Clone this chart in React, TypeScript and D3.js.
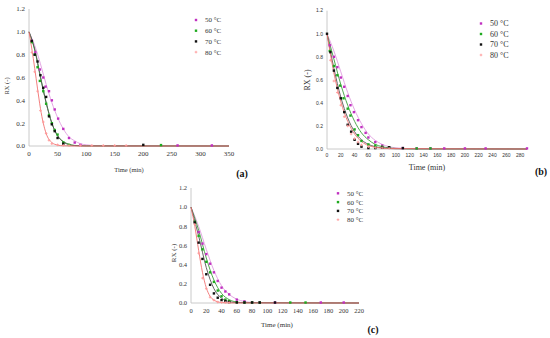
import React from "react";
import * as d3 from "d3";

type Pt = [number, number];

const legendLabels = ["50 °C", "60 °C", "70 °C", "80 °C"];
const pointColors = ["#c030c0", "#1faa1f", "#111111", "#ff9a9a"];
const curveColors = ["#e09ce0", "#3c9e3c", "#555555", "#f07272"];

// ---- panel (a) measured points [time, RX]
const a50: Pt[] = [[5, 0.92], [11, 0.82], [19, 0.67], [25, 0.6], [29, 0.52], [35, 0.48], [40, 0.4], [45, 0.32], [51, 0.24], [60, 0.15], [70, 0.07], [80, 0.03], [90, 0.01], [260, 0.005], [320, 0.005]];
const a60: Pt[] = [[5, 0.91], [10, 0.8], [15, 0.69], [19, 0.57], [25, 0.48], [30, 0.37], [35, 0.27], [40, 0.2], [45, 0.14], [50, 0.1], [60, 0.03], [70, 0.01], [231, 0.008]];
const a70: Pt[] = [[5, 0.92], [10, 0.8], [15, 0.74], [20, 0.62], [25, 0.51], [30, 0.43], [35, 0.26], [40, 0.19], [45, 0.13], [50, 0.07], [60, 0.02], [200, 0.01]];
const a80: Pt[] = [[5, 0.82], [10, 0.65], [15, 0.48], [20, 0.31], [25, 0.21], [30, 0.11], [35, 0.05], [40, 0.02], [50, 0.01], [60, 0.005], [70, 0.005], [90, 0.005], [110, 0.005], [130, 0.005], [150, 0.005], [170, 0.005]];
// fitted curves (a)
const a50fit: Pt[] = [[0, 1], [10, 0.88], [20, 0.72], [30, 0.54], [40, 0.38], [50, 0.25], [60, 0.15], [70, 0.08], [80, 0.045], [90, 0.02], [100, 0.01], [120, 0.003], [150, 0.001], [350, 0]];
const a60fit: Pt[] = [[0, 1], [10, 0.84], [20, 0.6], [30, 0.38], [40, 0.2], [50, 0.09], [60, 0.04], [70, 0.015], [80, 0.005], [100, 0.001], [350, 0]];
const a70fit: Pt[] = [[0, 1], [10, 0.85], [20, 0.61], [30, 0.38], [40, 0.2], [50, 0.09], [60, 0.035], [70, 0.012], [80, 0.004], [100, 0.001], [350, 0]];
const a80fit: Pt[] = [[0, 1], [5, 0.85], [10, 0.68], [15, 0.5], [20, 0.33], [25, 0.2], [30, 0.11], [40, 0.03], [50, 0.008], [60, 0.002], [80, 0], [350, 0]];

// ---- panel (b)
const b50: Pt[] = [[4, 0.9], [10, 0.8], [15, 0.71], [20, 0.62], [25, 0.54], [30, 0.46], [34, 0.38], [39, 0.32], [45, 0.25], [50, 0.19], [56, 0.14], [60, 0.1], [70, 0.06], [80, 0.03], [90, 0.015], [110, 0.008], [130, 0.005], [150, 0.005], [170, 0.005], [200, 0.005], [230, 0.005], [290, 0.005]];
const b60: Pt[] = [[4, 0.85], [10, 0.72], [15, 0.64], [19, 0.55], [24, 0.44], [30, 0.35], [34, 0.29], [40, 0.17], [45, 0.12], [50, 0.07], [60, 0.04], [70, 0.03], [80, 0.02], [90, 0.015], [130, 0.005], [150, 0.005]];
const b70: Pt[] = [[0, 1], [5, 0.84], [10, 0.68], [15, 0.53], [20, 0.44], [25, 0.32], [30, 0.21], [35, 0.15], [40, 0.08], [45, 0.045], [50, 0.02], [60, 0.008], [70, 0.008], [80, 0.012], [90, 0.015], [110, 0.008]];
const b80: Pt[] = [[5, 0.77], [10, 0.59], [15, 0.49], [20, 0.38], [25, 0.28], [30, 0.2], [35, 0.13], [40, 0.09], [45, 0.06], [50, 0.035], [60, 0.02], [70, 0.012], [80, 0.01], [90, 0.006]];
const b50fit: Pt[] = [[0, 1], [10, 0.85], [20, 0.67], [30, 0.49], [40, 0.34], [50, 0.22], [60, 0.13], [70, 0.075], [80, 0.04], [90, 0.02], [100, 0.01], [120, 0.003], [150, 0.001], [290, 0]];
const b60fit: Pt[] = [[0, 1], [10, 0.78], [20, 0.56], [30, 0.38], [40, 0.24], [50, 0.14], [60, 0.08], [70, 0.04], [80, 0.02], [100, 0.005], [130, 0.001], [290, 0]];
const b70fit: Pt[] = [[0, 1], [10, 0.7], [20, 0.45], [30, 0.27], [40, 0.15], [50, 0.08], [60, 0.04], [70, 0.02], [80, 0.01], [100, 0.002], [290, 0]];
const b80fit: Pt[] = [[0, 1], [10, 0.66], [20, 0.41], [30, 0.24], [40, 0.13], [50, 0.065], [60, 0.03], [70, 0.015], [90, 0.004], [290, 0]];

// ---- panel (c)
const c50: Pt[] = [[5, 0.85], [10, 0.74], [15, 0.62], [20, 0.51], [25, 0.41], [30, 0.32], [35, 0.23], [40, 0.16], [45, 0.12], [50, 0.09], [60, 0.035], [70, 0.017], [80, 0.008], [90, 0.006], [110, 0.005], [170, 0.005], [200, 0.005]];
const c60: Pt[] = [[5, 0.85], [10, 0.7], [15, 0.56], [20, 0.43], [25, 0.32], [30, 0.22], [35, 0.13], [40, 0.07], [45, 0.035], [50, 0.02], [60, 0.008], [70, 0.006], [80, 0.006], [90, 0.005], [130, 0.005], [150, 0.005]];
const c70: Pt[] = [[5, 0.84], [10, 0.63], [15, 0.46], [20, 0.3], [25, 0.19], [30, 0.1], [35, 0.055], [40, 0.03], [45, 0.02], [50, 0.01], [60, 0.006], [70, 0.005], [80, 0.005], [90, 0.005], [110, 0.005]];
const c80: Pt[] = [[5, 0.82], [10, 0.52], [15, 0.26], [20, 0.15], [25, 0.06], [30, 0.03], [35, 0.01], [40, 0.006], [45, 0.005], [50, 0.005]];
const c50fit: Pt[] = [[0, 1], [10, 0.8], [20, 0.56], [30, 0.34], [40, 0.18], [50, 0.09], [60, 0.04], [70, 0.015], [80, 0.006], [100, 0.001], [220, 0]];
const c60fit: Pt[] = [[0, 1], [10, 0.76], [20, 0.47], [30, 0.24], [40, 0.1], [50, 0.035], [60, 0.01], [70, 0.003], [220, 0]];
const c70fit: Pt[] = [[0, 1], [10, 0.7], [20, 0.37], [30, 0.15], [40, 0.05], [50, 0.015], [60, 0.004], [220, 0]];
const c80fit: Pt[] = [[0, 1], [5, 0.8], [10, 0.55], [15, 0.32], [20, 0.16], [25, 0.07], [30, 0.03], [40, 0.005], [50, 0.001], [220, 0]];

const yTicks = [0, 0.2, 0.4, 0.6, 0.8, 1.0, 1.2];
const aTicks = [0, 50, 100, 150, 200, 250, 300, 350];
const bTicks = d3.range(0, 281, 20);
const cTicks = d3.range(0, 221, 20);

type PanelProps = {
  x0: number; x1: number; y0: number; y1: number;
  xMax: number; xTicks: number[];
  points: Pt[][]; fits: Pt[][];
  font: number; legFont: number; titleFont: number;
  legX: number; legY: number; legStep: number;
  rxX: number; rxY: number;
  titleX: number; titleY: number;
  tag: string; tagX: number; tagY: number;
  tickFamily: string;
};

const Marker = ({ x, y, i }: { x: number; y: number; i: number }) => {
  if (i === 3) {
    return (
      <g stroke={pointColors[3]} strokeWidth={0.9}>
        <line x1={x - 1.3} x2={x + 1.3} y1={y} y2={y} />
        <line x1={x} x2={x} y1={y - 1.3} y2={y + 1.3} />
      </g>
    );
  }
  return <rect x={x - 1.2} y={y - 1.2} width={2.4} height={2.4} fill={pointColors[i]} />;
};

const Panel = (p: PanelProps) => {
  const x = d3.scaleLinear().domain([0, p.xMax]).range([p.x0, p.x1]);
  const y = d3.scaleLinear().domain([0, 1.2]).range([p.y1, p.y0]);
  const ln = d3.line<Pt>().x(d => x(d[0])).y(d => y(d[1])).curve(d3.curveMonotoneX);
  return (
    <g>
      {/* axes */}
      <line x1={p.x0} x2={p.x0} y1={p.y0} y2={p.y1} stroke="#bdbdbd" strokeWidth={0.8} />
      <line x1={p.x0} x2={p.x1} y1={p.y1} y2={p.y1} stroke="#bdbdbd" strokeWidth={0.8} />
      {yTicks.map(t => (
        <text key={t} x={p.x0 - 4} y={y(t)} dy="0.35em" textAnchor="end"
          fontSize={p.font} fontFamily={p.tickFamily} fill="#333">{t.toFixed(1)}</text>
      ))}
      {p.xTicks.map(t => (
        <text key={t} x={x(t)} y={p.y1 + p.font + 3} textAnchor="middle"
          fontSize={p.font} fontFamily={p.tickFamily} fill="#333">{t}</text>
      ))}
      <text transform={`translate(${p.rxX},${p.rxY}) rotate(-90)`} textAnchor="middle"
        fontSize={p.titleFont} fontFamily="Liberation Serif" fill="#333">RX (-)</text>
      <text x={p.titleX} y={p.titleY} textAnchor="middle" fontSize={p.titleFont}
        fontFamily="Liberation Serif" fill="#333">Time (min)</text>
      <text x={p.tagX} y={p.tagY} textAnchor="middle" fontSize={10} fontWeight="bold"
        fontFamily="Liberation Serif" fill="#111">{p.tag}</text>
      {/* fitted curves */}
      {p.fits.map((f, i) => (
        <path key={i} d={ln(f) || ""} fill="none" stroke={curveColors[i]} strokeWidth={0.9} />
      ))}
      {/* measured points */}
      {p.points.map((s, i) => s.map((d, j) => <Marker key={i + "-" + j} x={x(d[0])} y={y(d[1])} i={i} />))}
      {/* legend */}
      {legendLabels.map((lab, i) => (
        <g key={lab}>
          <Marker x={p.legX} y={p.legY + i * p.legStep} i={i} />
          <text x={p.legX + 9} y={p.legY + i * p.legStep} dy="0.35em" fontSize={p.legFont}
            fontFamily="Liberation Serif" fill="#333">{lab}</text>
        </g>
      ))}
    </g>
  );
};

export default function App() {
  return (
    <svg width={550} height={338} style={{ position: "absolute", left: 0, top: 0, background: "#fff" }}>
      <Panel x0={29} x1={229} y0={9} y1={146} xMax={350} xTicks={aTicks}
        points={[a50, a60, a70, a80]} fits={[a50fit, a60fit, a70fit, a80fit]}
        font={7} legFont={7} titleFont={6.5} legX={196} legY={20} legStep={10.7}
        rxX={9} rxY={86} titleX={129} titleY={172} tag="(a)" tagX={242} tagY={177}
        tickFamily="Liberation Serif" />
      <Panel x0={327} x1={527} y0={10.7} y1={149} xMax={290} xTicks={bTicks}
        points={[b50, b60, b70, b80]} fits={[b50fit, b60fit, b70fit, b80fit]}
        font={5} legFont={8} titleFont={8} legX={481} legY={23.5} legStep={10.5}
        rxX={310} rxY={80} titleX={427} titleY={170} tag="(b)" tagX={541} tagY={175}
        tickFamily="Liberation Sans" />
      <Panel x0={191} x1={359} y0={188} y1={303} xMax={220} xTicks={cTicks}
        points={[c50, c60, c70, c80]} fits={[c50fit, c60fit, c70fit, c80fit]}
        font={6.5} legFont={7} titleFont={7} legX={338} legY={193.3} legStep={8.8}
        rxX={176} rxY={253} titleX={277} titleY={327} tag="(c)" tagX={373} tagY={333}
        tickFamily="Liberation Serif" />
    </svg>
  );
}
